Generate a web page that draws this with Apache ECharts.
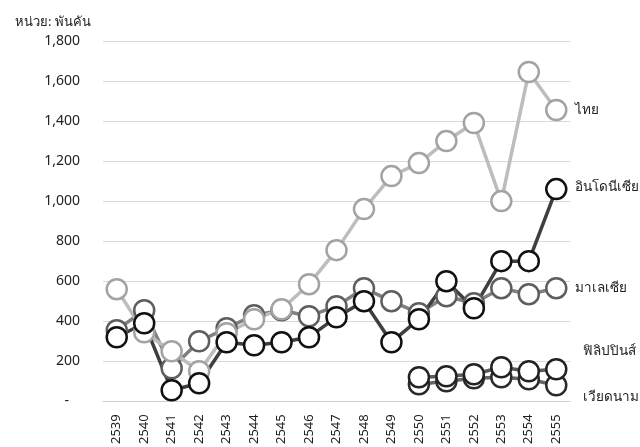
<!DOCTYPE html>
<html>
<head>
<meta charset="utf-8">
<script src="https://cdn.jsdelivr.net/npm/echarts@6/dist/echarts.min.js"></script>
<style>
  html, body { margin: 0; padding: 0; background: #fff; }
  #chart { width: 640px; height: 447px; }
</style>
</head>
<body>
<div id="chart"></div>
<script>
const years = ['2539', '2540', '2541', '2542', '2543', '2544', '2545', '2546', '2547',
  '2548', '2549', '2550', '2551', '2552', '2553', '2554', '2555'];

const thai = [560, 345, 250, 150, 340, 410, 460, 585, 755, 960, 1125, 1190, 1300, 1390, 1000, 1645, 1455];
const indonesia = [320, 390, 55, 90, 295, 280, 295, 320, 420, 500, 295, 410, 600, 465, 700, 700, 1060];
const malaysia = [355, 455, 165, 300, 365, 430, 455, 425, 475, 565, 500, 440, 525, 490, 565, 535, 565];
const philippines = [null, null, null, null, null, null, null, null, null, null, null, 120, 125, 135, 170, 150, 160];
const vietnam = [null, null, null, null, null, null, null, null, null, null, null, 85, 100, 115, 120, 110, 80];

const font = '"Noto Sans", "Liberation Sans", sans-serif';

function serie(name, data, line, border, offset) {
  return {
    name: name,
    type: 'line',
    data: data,
    symbol: 'circle',
    symbolSize: 20,
    showAllSymbol: true,
    connectNulls: false,
    lineStyle: { color: line, width: 3.5 },
    itemStyle: { color: '#fff', borderColor: border, borderWidth: 2.5 },
    endLabel: {
      show: true,
      formatter: '{a}',
      distance: 0,
      offset: offset,
      color: '#222',
      fontSize: 13.5,
      fontFamily: font
    }
  };
}

const chart = echarts.init(document.getElementById('chart'));
chart.setOption({
  animation: false,
  backgroundColor: '#fff',
  title: {
    text: 'หน่วย: พันคัน',
    left: 10,
    top: 11,
    textStyle: { fontSize: 13, fontWeight: 'normal', color: '#222', fontFamily: font }
  },
  grid: { left: 103, right: 70, top: 41, bottom: 40 },
  xAxis: {
    type: 'category',
    data: years,
    axisLine: { lineStyle: { color: '#cfcfcf' } },
    axisTick: { length: 6, lineStyle: { color: '#cfcfcf' } },
    axisLabel: { rotate: 90, margin: 13, fontSize: 13, color: '#222', fontFamily: font }
  },
  yAxis: {
    type: 'value',
    min: 0,
    max: 1800,
    interval: 200,
    axisLine: { show: false },
    axisTick: { show: false },
    splitLine: { lineStyle: { color: '#d9d9d9' } },
    axisLabel: {
      margin: 23,
      fontSize: 14,
      color: '#222',
      fontFamily: font,
      formatter: v => v === 0 ? '-   ' : v.toLocaleString('en-US')
    }
  },
  series: [
    serie('เวียดนาม', vietnam, '#666', '#2a2a2a', [27, 12]),
    serie('ฟิลิปปินส์', philippines, '#5a5a5a', '#222', [27, -18]),
    serie('มาเลเซีย', malaysia, '#808080', '#5e5e5e', [19, 0]),
    serie('ไทย', thai, '#bdbdbd', '#a3a3a3', [19, 0]),
    serie('อินโดนีเซีย', indonesia, '#3f3f3f', '#111', [19, -2])
  ]
});
</script>
</body>
</html>
